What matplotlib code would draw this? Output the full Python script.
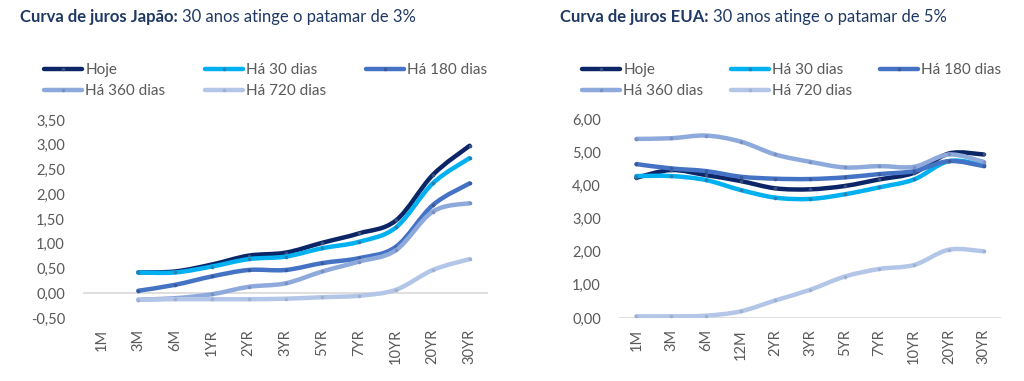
import numpy as np
import matplotlib.pyplot as plt
from matplotlib.path import Path
from matplotlib.patches import PathPatch
from matplotlib.lines import Line2D

plt.rcParams['font.family'] = ['Lato', 'DejaVu Sans']

nan = np.nan

SERIES = ['Hoje', 'Há 30 dias', 'Há 180 dias', 'Há 360 dias', 'Há 720 dias']
COLORS = ['#0B2566', '#00B0F0', '#4472C4', '#8EA9DB', '#B4C6E7']
DOT_COLORS = ['#3A4F80', '#2A7FB0', '#3A5A9A', '#7A90C0', '#9FB0D0']
TEXT_GRAY = '#595959'
TITLE_BLUE = '#1F3864'

# Japan curve
JP_TENORS = ['1M', '3M', '6M', '1YR', '2YR', '3YR', '5YR', '7YR', '10YR', '20YR', '30YR']
JP_HOJE = [nan, 0.42, 0.44, 0.58, 0.76, 0.82, 1.02, 1.21, 1.47, 2.39, 2.98]
JP_30D = [nan, 0.42, 0.42, 0.54, 0.69, 0.74, 0.91, 1.04, 1.33, 2.22, 2.73]
JP_180D = [nan, 0.05, 0.17, 0.34, 0.47, 0.47, 0.61, 0.71, 0.94, 1.78, 2.22]
JP_360D = [nan, -0.13, -0.10, -0.02, 0.13, 0.20, 0.44, 0.64, 0.87, 1.65, 1.82]
JP_720D = [nan, -0.13, -0.12, -0.12, -0.12, -0.11, -0.08, -0.05, 0.07, 0.47, 0.69]

# US curve
US_TENORS = ['1M', '3M', '6M', '12M', '2YR', '3YR', '5YR', '7YR', '10YR', '20YR', '30YR']
US_HOJE = [4.23, 4.46, 4.31, 4.13, 3.91, 3.88, 3.98, 4.18, 4.38, 4.96, 4.93]
US_30D = [4.28, 4.28, 4.16, 3.86, 3.63, 3.59, 3.73, 3.94, 4.18, 4.73, 4.61]
US_180D = [4.64, 4.51, 4.43, 4.26, 4.20, 4.19, 4.24, 4.34, 4.43, 4.73, 4.58]
US_360D = [5.40, 5.42, 5.50, 5.32, 4.93, 4.71, 4.54, 4.58, 4.56, 4.93, 4.71]
US_720D = [0.05, 0.05, 0.07, 0.20, 0.53, 0.85, 1.25, 1.48, 1.60, 2.06, 2.01]


def smooth_path(x, y):
    # excel-like smoothed line: catmull-rom as cubic bezier segments
    pts = np.array([(a, b) for a, b in zip(x, y) if not np.isnan(b)], float)
    n = len(pts)
    verts = [pts[0]]
    codes = [Path.MOVETO]
    for i in range(n - 1):
        p0 = pts[max(i - 1, 0)]
        p1 = pts[i]
        p2 = pts[i + 1]
        p3 = pts[min(i + 2, n - 1)]
        verts += [p1 + (p2 - p0) / 6, p2 - (p3 - p1) / 6, p2]
        codes += [Path.CURVE4] * 3
    return Path(verts, codes)


def comma(v):
    return f'{v:.2f}'.replace('.', ',')


def draw_curve(ax, tenors, data, yticks, zero_line):
    x = np.arange(len(tenors))
    for i, values in enumerate(data):
        patch = PathPatch(smooth_path(x, values), fill=False, edgecolor=COLORS[i],
                          lw=3.2, capstyle='round', joinstyle='round', zorder=3 + i)
        ax.add_patch(patch)
        ax.plot(x, values, 'o', ms=1.6, color=DOT_COLORS[i], zorder=3 + i)
    ax.axhline(zero_line, color='#D9D9D9', lw=1.2, zorder=1)
    ax.set_xlim(-0.5, len(tenors) - 0.5)
    ax.set_ylim(yticks[0], yticks[-1])
    ax.set_yticks(yticks)
    ax.set_yticklabels([comma(v) for v in yticks])
    ax.set_xticks(x)
    ax.set_xticklabels(tenors, rotation=90)
    for s in ax.spines.values():
        s.set_visible(False)
    ax.tick_params(axis='y', length=0, pad=13, labelsize=10.5, labelcolor=TEXT_GRAY)
    ax.tick_params(axis='x', length=0, pad=8, labelsize=10.5, labelcolor=TEXT_GRAY)


def add_title(fig, x, bold, rest):
    t = fig.text(x, 0.955, bold, fontsize=12, fontweight='bold', color=TITLE_BLUE, va='center')
    plt.annotate(rest, xy=(1, 0.5), xycoords=t, xytext=(3, 0), textcoords='offset points',
                 fontsize=12, color=TITLE_BLUE, va='center', annotation_clip=False)


def add_legend(fig, x, y, spacing):
    handles = [Line2D([0], [0], color=c, lw=3.2, marker='o', ms=1.6, mfc=d, mec=d,
                      solid_capstyle='round')
               for c, d in zip(COLORS, DOT_COLORS)]
    order = [0, 3, 1, 4, 2]
    fig.legend([handles[i] for i in order], [SERIES[i] for i in order],
               loc='upper left', bbox_to_anchor=(x, y), ncol=3, frameon=False,
               borderpad=0, borderaxespad=0, handlelength=2.5, handletextpad=0.2,
               columnspacing=spacing, labelspacing=0.45, fontsize=11,
               labelcolor=TEXT_GRAY)


fig = plt.figure(figsize=(10.24, 3.81), dpi=100)
ax1 = fig.add_axes([83 / 1024, 63 / 381, 405 / 1024, 198 / 381])
ax2 = fig.add_axes([619 / 1024, 63 / 381, 382 / 1024, 199 / 381])

draw_curve(ax1, JP_TENORS, [JP_HOJE, JP_30D, JP_180D, JP_360D, JP_720D],
           np.arange(-0.5, 3.51, 0.5), 0)
draw_curve(ax2, US_TENORS, [US_HOJE, US_30D, US_180D, US_360D, US_720D],
           np.arange(0, 6.01, 1.0), 0)

add_title(fig, 20 / 1024, 'Curva de juros Japão:', '30 anos atinge o patamar de 3%')
add_title(fig, 560 / 1024, 'Curva de juros EUA:', '30 anos atinge o patamar de 5%')

add_legend(fig, 44 / 1024, 1 - 63 / 381, 2.6)
add_legend(fig, 582 / 1024, 1 - 63 / 381, 1.8)

fig.savefig('out.png', dpi=100, facecolor='white')
